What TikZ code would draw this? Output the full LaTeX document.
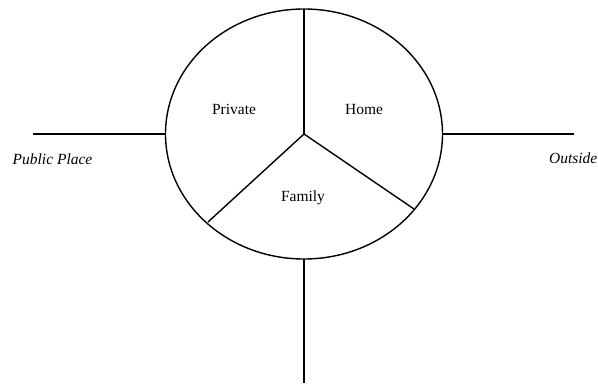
\documentclass[tikz,border=0pt]{standalone}
\usepackage{fontspec}
\setmainfont{Liberation Serif}
\begin{document}
\begin{tikzpicture}[x=1pt,y=-1pt,line width=1.4pt,
  lbl/.style={font=\fontsize{15.5}{18}\selectfont,inner sep=0pt},
  ilbl/.style={font=\fontsize{15.5}{18}\selectfont\itshape,inner sep=0pt}]
\useasboundingbox (0,0) rectangle (598,385);
\coordinate (c) at (304,134);
\draw (c) ellipse [x radius=138.5, y radius=125];
\coordinate (top) at (304,9);
\coordinate (sl) at (208,222);
\coordinate (sr) at (414,209);
\coordinate (el) at (165.5,134);
\coordinate (er) at (442.5,134);
\coordinate (eb) at (304,259);
\coordinate (ll) at (33,134);
\coordinate (rr) at (574,134);
\coordinate (bb) at (304,383);
\draw (top) -- (c);
\draw (c) -- (sl);
\draw (c) -- (sr);
\draw (ll) -- (el);
\draw (er) -- (rr);
\draw (eb) -- (bb);
\node[lbl] (private) at (234,109) {Private};
\node[lbl] (home) at (364,110) {Home};
\node[lbl] (family) at (303,198) {Family};
\node[ilbl] (public) at (52.5,159) {Public Place};
\node[ilbl,anchor=east] (outside) at (598,158) {Outside};
\end{tikzpicture}
\end{document}
